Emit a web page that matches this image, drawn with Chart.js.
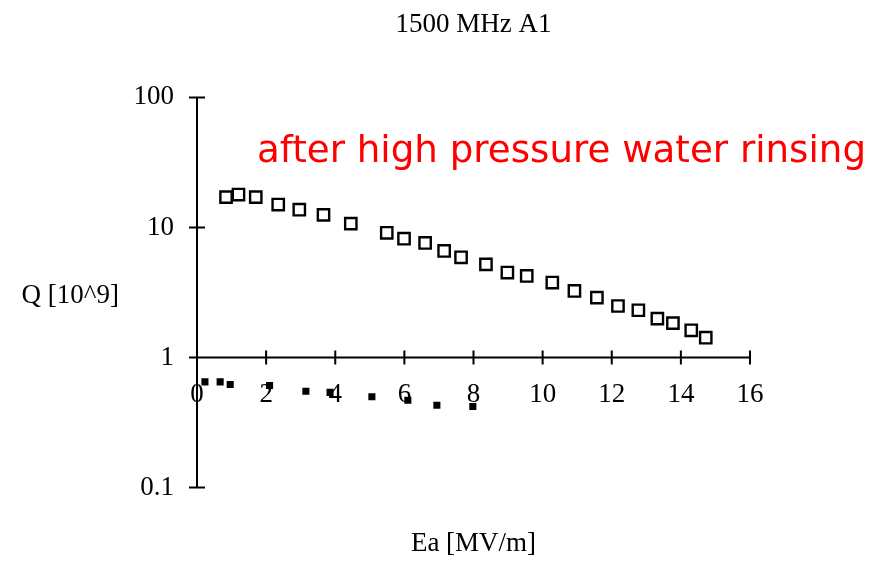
<!DOCTYPE html>
<html>
<head>
<meta charset="utf-8">
<title>1500 MHz A1</title>
<script src="https://cdn.jsdelivr.net/npm/chart.js@4"></script>
<style>
  html, body { margin: 0; padding: 0; background: #fff; }
  #wrap { width: 874px; height: 562px; }
</style>
</head>
<body>
<div id="wrap"><canvas id="chart" width="874" height="562"></canvas></div>
<script>
var xTicks = [0, 2, 4, 6, 8, 10, 12, 14, 16]
var yTicks = [0.1, 1, 10, 100]

// after rinsing (open squares)
var rinsedEa = [0.84, 1.20, 1.70, 2.35, 2.96, 3.66, 4.45, 5.49, 5.99, 6.60, 7.15, 7.64,
  8.36, 8.98, 9.54, 10.28, 10.92, 11.57, 12.18, 12.77, 13.32, 13.77, 14.30, 14.72]
var rinsedQ = [17.1, 17.9, 17.1, 15.0, 13.7, 12.5, 10.7, 9.1, 8.2, 7.6, 6.6, 5.9,
  5.2, 4.5, 4.24, 3.77, 3.25, 2.89, 2.49, 2.31, 1.99, 1.84, 1.62, 1.42]

// before rinsing (small filled squares)
var beforeEa = [0.23, 0.67, 0.96, 2.1, 3.15, 3.85, 5.06, 6.1, 6.94, 7.98]
var beforeQ = [0.65, 0.65, 0.62, 0.61, 0.55, 0.54, 0.50, 0.47, 0.43, 0.42]

function toPoints(xs, ys) {
  return xs.map(function (x, i) { return { x: x, y: ys[i] } })
}

Chart.defaults.font.family = "'Liberation Serif', 'Times New Roman', serif"
Chart.defaults.font.size = 27
Chart.defaults.color = '#000'

// axes cross at Q = 1, tick marks go through the line
var crossAxes = {
  id: 'crossAxes',
  beforeDatasetsDraw: function (chart) {
    var ctx = chart.ctx
    var xs = chart.scales.x
    var ys = chart.scales.y
    var x0 = xs.getPixelForValue(xTicks[0])
    var xEnd = xs.getPixelForValue(xTicks[xTicks.length - 1])
    var y1 = ys.getPixelForValue(1)
    ctx.save()
    ctx.strokeStyle = '#000'
    ctx.lineWidth = 2
    ctx.beginPath()
    ctx.moveTo(x0, ys.getPixelForValue(yTicks[yTicks.length - 1]))
    ctx.lineTo(x0, ys.getPixelForValue(yTicks[0]))
    ctx.moveTo(x0 - 8, y1)
    ctx.lineTo(xEnd, y1)
    yTicks.forEach(function (v) {
      var p = ys.getPixelForValue(v)
      ctx.moveTo(x0 - 8, p)
      ctx.lineTo(x0 + 8, p)
    })
    xTicks.forEach(function (v) {
      var p = xs.getPixelForValue(v)
      ctx.moveTo(p, y1 - 7)
      ctx.lineTo(p, y1 + 7)
    })
    ctx.stroke()
    ctx.restore()
  },
  afterDraw: function (chart) {
    var ctx = chart.ctx
    ctx.save()
    ctx.fillStyle = '#000'
    ctx.font = "27px 'Liberation Serif', serif"
    ctx.textAlign = 'right'
    ctx.textBaseline = 'middle'
    ctx.fillText('Q [10^9]', 119, 296)
    ctx.fillStyle = '#ff0000'
    ctx.font = "37.2px 'DejaVu Sans', sans-serif"
    ctx.textAlign = 'left'
    ctx.textBaseline = 'alphabetic'
    ctx.fillText('after high pressure water rinsing', 257, 162)
    ctx.restore()
  }
}

new Chart(document.getElementById('chart'), {
  type: 'scatter',
  data: {
    datasets: [{
      label: 'after rinsing',
      data: toPoints(rinsedEa, rinsedQ),
      pointStyle: 'rect',
      pointRadius: 8,
      pointBackgroundColor: '#fff',
      pointBorderColor: '#000',
      pointBorderWidth: 2.4
    }, {
      label: 'before rinsing',
      data: toPoints(beforeEa, beforeQ),
      pointStyle: 'rect',
      pointRadius: 5,
      pointBackgroundColor: '#000',
      pointBorderColor: '#000',
      pointBorderWidth: 0
    }]
  },
  options: {
    responsive: false,
    animation: false,
    devicePixelRatio: 1,
    layout: { padding: { left: 0, right: 124, top: 0, bottom: 0 } },
    plugins: {
      legend: { display: false },
      tooltip: { enabled: false },
      // not fullSize, so both titles centre over the plot area
      title: {
        display: true,
        fullSize: false,
        text: '1500 MHz A1',
        font: { size: 27, weight: 'normal' },
        padding: { top: 9, bottom: 56 }
      },
      subtitle: {
        display: true,
        fullSize: false,
        position: 'bottom',
        text: 'Ea [MV/m]',
        font: { size: 27, weight: 'normal' },
        padding: { top: 40, bottom: 2 }
      }
    },
    scales: {
      x: {
        type: 'linear',
        position: { y: 1 },
        min: xTicks[0],
        max: xTicks[xTicks.length - 1],
        afterBuildTicks: function (scale) {
          scale.ticks = xTicks.map(function (v) { return { value: v } })
        },
        grid: { display: false, drawTicks: false },
        border: { display: false },
        ticks: { autoSkip: false, maxRotation: 0, padding: 21 }
      },
      y: {
        type: 'logarithmic',
        position: 'left',
        min: yTicks[0],
        max: yTicks[yTicks.length - 1],
        afterBuildTicks: function (scale) {
          scale.ticks = yTicks.map(function (v) { return { value: v } })
        },
        afterFit: function (scale) { scale.width = 197 },
        grid: { display: false, drawTicks: false },
        border: { display: false },
        ticks: {
          padding: 23,
          callback: function (v) { return String(v) }
        }
      }
    }
  },
  plugins: [crossAxes]
})
</script>
</body>
</html>
